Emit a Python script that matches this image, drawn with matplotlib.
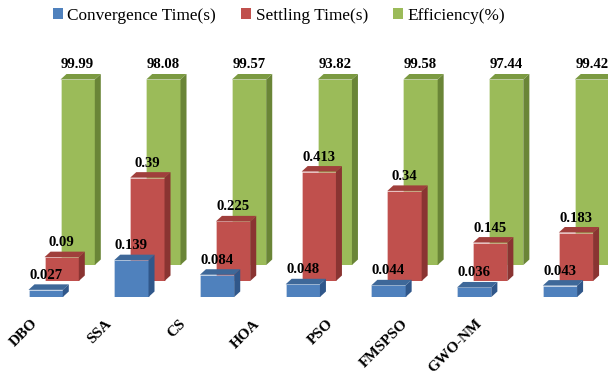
import matplotlib
matplotlib.use("Agg")
import matplotlib.pyplot as plt
from matplotlib.patches import Polygon, Patch

# ---- data -------------------------------------------------------------
methods = ["DBO", "SSA", "CS", "HOA", "PSO", "FMSPSO", "GWO-NM"]
convergence_time = [0.027, 0.139, 0.084, 0.048, 0.044, 0.036, 0.043]
settling_time = [0.09, 0.39, 0.225, 0.413, 0.34, 0.145, 0.183]
efficiency = [99.99, 98.08, 99.57, 93.82, 99.58, 97.44, 99.42]
series_names = ["Convergence Time(s)", "Settling Time(s)", "Efficiency(%)"]

# ---- style ------------------------------------------------------------
W, H, DPI = 608, 380, 100
Y_MAX = 0.7
FRONT = ["#4F81BD", "#C0504D", "#9BBB59"]
TOP = ["#3E6899", "#A03F3C", "#7B9A41"]
SIDE = ["#30578A", "#8A3432", "#6A8537"]
SERIF = "Liberation Serif"

# frame of the front row, in pixels
LEFT_PX, WIDTH_PX = 2.8, 600.0
BASE_PX, HEIGHT_PX = 83.0, 185.5
ROW_SHIFT = 16.0          # each series row sits further back
DEPTH_PX = (6.0, 5.5)     # extrusion of the 3D faces
BAR_W = 0.4

fig = plt.figure(figsize=(W / DPI, H / DPI), dpi=DPI, facecolor="white")

series = [convergence_time, settling_time, efficiency]
n = len(methods)
xs = list(range(n))

# draw back rows first so that front rows overlap them
for k in reversed(range(3)):
    ax = fig.add_axes([(LEFT_PX + ROW_SHIFT * k) / W,
                       (BASE_PX + ROW_SHIFT * k) / H,
                       WIDTH_PX / W, HEIGHT_PX / H])
    ax.set_xlim(-0.5, n - 0.5)
    ax.set_ylim(0, Y_MAX)
    ax.axis("off")
    ax.patch.set_visible(False)

    px_per_x = WIDTH_PX / n
    px_per_y = HEIGHT_PX / Y_MAX
    dx = DEPTH_PX[0] / px_per_x
    dy = DEPTH_PX[1] / px_per_y

    vals = series[k]
    ax.bar(xs, vals, width=BAR_W, color=FRONT[k],
           edgecolor=(1, 1, 1, 0.35), linewidth=0.6, zorder=2)

    for i, v in enumerate(vals):
        top = min(v, Y_MAX)
        x0, x1 = i - BAR_W / 2, i + BAR_W / 2
        ax.add_patch(Polygon([(x0, top), (x1, top), (x1 + dx, top + dy),
                              (x0 + dx, top + dy)], closed=True,
                             facecolor=TOP[k], edgecolor="none",
                             clip_on=False, zorder=2))
        ax.add_patch(Polygon([(x1, 0), (x1 + dx, dy), (x1 + dx, top + dy),
                              (x1, top)], closed=True,
                             facecolor=SIDE[k], edgecolor="none",
                             clip_on=False, zorder=2))
        ax.text(i, top + dy + 2.5 / px_per_y, f"{v:g}", ha="center",
                va="bottom", family=SERIF, fontweight="bold", fontsize=10.6,
                color="black", clip_on=False, zorder=5)

# category labels along the floor
LAB_SPACING = 74.0
LAB_ANCHOR0 = 31.0
lab = fig.add_axes([(LAB_ANCHOR0 - LAB_SPACING / 2) / W, (H - 317) / H,
                    LAB_SPACING * n / W, 0.001])
lab.set_xlim(-0.5, n - 0.5)
lab.patch.set_visible(False)
for s in lab.spines.values():
    s.set_visible(False)
lab.set_yticks([])
lab.set_xticks(xs)
lab.set_xticklabels(methods, rotation=45, ha="right", va="top",
                    rotation_mode="anchor", family=SERIF,
                    fontweight="bold", fontsize=11)
lab.tick_params(axis="x", length=0, pad=0)

# legend
handles = [Patch(facecolor=c, edgecolor="none") for c in FRONT]
fig.legend(handles, series_names, loc="center",
           bbox_to_anchor=(279 / W, 1 - 16 / H), ncol=3, frameon=False,
           prop={"family": SERIF, "size": 12.4}, handlelength=0.6,
           handleheight=0.6, handletextpad=0.25, columnspacing=1.45,
           borderpad=0)

fig.savefig("out.png", dpi=DPI)
